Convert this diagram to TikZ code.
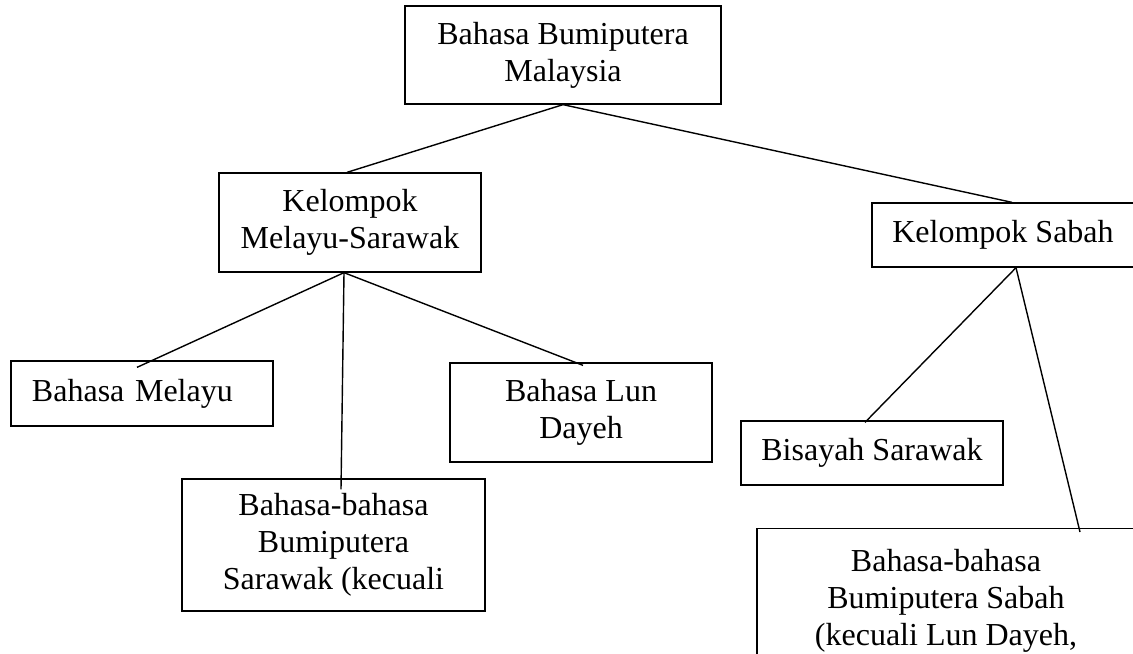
\documentclass[tikz,border=0pt]{standalone}
\usepackage{fontspec}
\setmainfont{Liberation Serif}
\usepackage{tikz}
\usetikzlibrary{positioning}

\begin{document}
\begin{tikzpicture}[
    x=0.5pt, y=-0.5pt,
    box/.style={rectangle, draw=black, line width=0.65pt, align=center, inner sep=0pt,
        minimum width=131pt, font=\fontsize{16}{18.5}\selectfont},
    line/.style={line width=0.7pt}]
\useasboundingbox (0,0) rectangle (1133,653);
\clip (0,0) rectangle (1133,653);
\node[box, minimum width=158pt, minimum height=49pt] (root) at (563,55) {Bahasa Bumiputera\\ Malaysia};
\node[box, minimum height=49.5pt] (kms) at (350,222.5) {Kelompok\\ Melayu-Sarawak};
\node[box, minimum height=32pt] (sabah) at (1003,235) {Kelompok Sabah};
\node[box, minimum height=32.5pt, text width=110pt, align=left, inner xsep=10.5pt] (melayu) at (142,393.5) {Bahasa Melayu};
\node[box, minimum height=49.5pt] (lundayeh) at (581,412.5) {Bahasa Lun\\ Dayeh};
\node[box, minimum width=151.5pt, minimum height=66pt] (sarawak) at (333.5,545) {Bahasa-bahasa\\ Bumiputera\\ Sarawak (kecuali};
\node[box, minimum height=32pt] (bisayah) at (872,453) {Bisayah Sarawak};
\node[box, minimum width=189pt, inner ysep=10.5pt, anchor=north] (sabahlang) at (946,528) {Bahasa-bahasa\\ Bumiputera Sabah\\ (kecuali Lun Dayeh,};
\draw[line](root.south)--([xshift=-1.5pt]kms.north);\draw[line](root.south)--([xshift=4.5pt]sabah.north);
\draw[line]([xshift=-3pt]kms.south)--([xshift=-2.5pt,yshift=-3.5pt]melayu.north);
\draw[line]([xshift=-3pt]kms.south)--([xshift=1pt,yshift=-1.5pt]lundayeh.north);
\draw[line]([xshift=-3pt]kms.south)--([xshift=3.75pt,yshift=-5.5pt]sarawak.north);
\draw[line]([xshift=6.5pt]sabah.south)--([xshift=-3.5pt,yshift=-1pt]bisayah.north);
\draw[line]([xshift=6.5pt]sabah.south)--([xshift=67pt,yshift=-2pt]sabahlang.north);
\end{tikzpicture}
\end{document}
